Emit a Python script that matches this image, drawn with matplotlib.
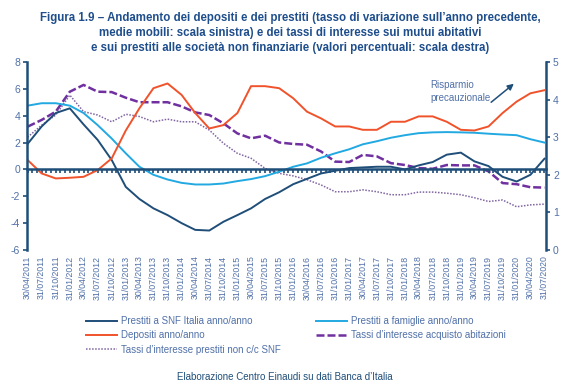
import matplotlib
matplotlib.use('Agg')
import matplotlib.pyplot as plt
import matplotlib.dates as mdates
import pandas as pd

plt.rcParams['font.family'] = ['Liberation Sans', 'DejaVu Sans']
plt.rcParams['axes.unicode_minus'] = False

# quarterly readings, 30/04/2011 .. 31/07/2020
dates = pd.date_range('2011-04-30', periods=38, freq='3ME')
tick_labels = [d.strftime('%d/%m/%Y') for d in dates]

# left scale (%)
prestiti_snf = [1.9, 3.2, 4.2, 4.55, 3.35, 2.2, 0.7, -1.3, -2.2, -2.9,
                -3.4, -4.0, -4.5, -4.55, -3.9, -3.4, -2.9, -2.2, -1.7, -1.1,
                -0.7, -0.3, -0.1, 0.1, 0.15, 0.2, 0.2, 0.0, 0.3, 0.55,
                1.1, 1.25, 0.6, 0.25, -0.55, -0.9, -0.4, 0.8]
prestiti_famiglie = [4.75, 4.93, 4.93, 4.75, 4.2, 3.3, 2.3, 1.2, 0.2, -0.4,
                     -0.75, -1.0, -1.12, -1.12, -1.05, -0.87, -0.72, -0.5, -0.17, 0.2,
                     0.45, 0.87, 1.2, 1.5, 1.87, 2.1, 2.36, 2.55, 2.7, 2.76,
                     2.78, 2.76, 2.73, 2.66, 2.6, 2.55, 2.25, 2.0]
depositi = [0.7, -0.3, -0.67, -0.62, -0.55, -0.05, 0.82, 2.9, 4.55, 6.05,
            6.4, 5.55, 4.2, 3.05, 3.3, 4.2, 6.2, 6.2, 6.05, 5.3,
            4.3, 3.8, 3.2, 3.2, 2.95, 2.95, 3.55, 3.55, 3.95, 3.95,
            3.55, 2.95, 2.9, 3.2, 4.2, 5.05, 5.67, 5.9]
# right scale (%)
tassi_abitazioni = [3.28, 3.46, 3.68, 4.21, 4.39, 4.21, 4.2, 4.05, 3.93, 3.93,
                    3.93, 3.82, 3.66, 3.59, 3.37, 3.1, 2.97, 3.04, 2.86, 2.82,
                    2.8, 2.62, 2.35, 2.34, 2.53, 2.49, 2.31, 2.26, 2.18, 2.16,
                    2.26, 2.25, 2.25, 2.09, 1.78, 1.75, 1.67, 1.66]
tassi_snf = [3.0, 3.32, 3.59, 4.12, 3.68, 3.59, 3.41, 3.61, 3.55, 3.41,
             3.48, 3.41, 3.41, 3.19, 2.84, 2.57, 2.44, 2.17, 2.04, 1.97,
             1.87, 1.73, 1.55, 1.55, 1.6, 1.55, 1.47, 1.47, 1.54, 1.54,
             1.51, 1.47, 1.39, 1.29, 1.33, 1.15, 1.2, 1.22]

navy = '#1F4E79'
txt = '#5070A8'

fig = plt.figure(figsize=(5.8, 3.92), dpi=100)
ax = fig.add_axes([27/580, 1-250/392, (546-27)/580, 188/392])
ax2 = ax.twinx()

l1, = ax.plot(dates, prestiti_snf, color=navy, lw=1.4, label='Prestiti a SNF Italia anno/anno')
l2, = ax.plot(dates, prestiti_famiglie, color='#22A9E1', lw=1.4, label='Prestiti a famiglie anno/anno')
l3, = ax.plot(dates, depositi, color='#F0532B', lw=1.4, label='Depositi anno/anno')
l4, = ax2.plot(dates, tassi_abitazioni, color='#7030A0', lw=1.8, ls=(0, (3.2, 1.2)),
               label='Tassi d’interesse acquisto abitazioni')
l5, = ax2.plot(dates, tassi_snf, color='#8064A2', lw=1.1, ls=(0, (1, 1)),
               label='Tassi d’interesse prestiti non c/c SNF')

ax.set_ylim(-6, 8)
ax.set_yticks(range(-6, 9, 2))
ax2.set_ylim(0, 5)
ax2.set_yticks(range(0, 6))
ax.set_xlim(dates[0] - pd.Timedelta(days=4), dates[-1] + pd.Timedelta(days=10))

# horizontal axis drawn at zero with monthly tick marks
ax.spines['bottom'].set_position(('data', 0))
ax.spines['bottom'].set_color(navy)
ax.spines['bottom'].set_linewidth(1.8)
ax.xaxis.set_major_locator(mdates.MonthLocator(bymonthday=-1))
ax.tick_params(axis='x', which='major', direction='out', length=3, width=1.2,
               color=navy, labelbottom=False)
sec = ax.secondary_xaxis('bottom')
sec.set_xticks(dates)
sec.set_xticklabels(tick_labels, rotation=90, fontsize=6.3, color=txt)
sec.tick_params(length=0, pad=4)
sec.spines['bottom'].set_visible(False)

for a in (ax, ax2):
    a.spines['top'].set_visible(False)
ax.spines['right'].set_visible(False)
ax2.spines['bottom'].set_visible(False)
ax2.spines['left'].set_visible(False)
ax.spines['left'].set_color(navy)
ax.spines['left'].set_linewidth(1.8)
ax2.spines['right'].set_color(navy)
ax2.spines['right'].set_linewidth(1.8)
ax.tick_params(axis='y', length=3, width=1.2, color=navy, labelcolor=txt, labelsize=7.5, pad=2)
ax2.tick_params(axis='y', length=3, width=1.2, color=navy, labelcolor=txt, labelsize=7.5, pad=2)
ax.set_zorder(ax2.get_zorder() + 1)
ax.patch.set_visible(False)

fig.text(0.5, 1-12/392, 'Figura 1.9 – Andamento dei depositi e dei prestiti (tasso di variazione sull’anno precedente,\n'
         'medie mobili: scala sinistra) e dei tassi di interesse sui mutui abitativi\n'
         'e sui prestiti alle società non finanziarie (valori percentuali: scala destra)',
         ha='center', va='top', fontsize=8.3, fontweight='bold', color='#1F4E8C', linespacing=1.35)

fig.text(430/580, 1-80/392, 'Risparmio\nprecauzionale', fontsize=7, color=txt, va='top', linespacing=1.4)
fig.add_artist(matplotlib.patches.FancyArrowPatch((489/580, 1-104/392), (516/580, 1-82/392),
               transform=fig.transFigure, arrowstyle='-|>', mutation_scale=9, color=navy, lw=1.1))

kw = dict(frameon=False, fontsize=7, handlelength=3.2, handletextpad=0.35,
          labelspacing=0.45, borderpad=0, borderaxespad=0, labelcolor=txt)
fig.legend(handles=[l1, l3, l5], loc='upper left', bbox_to_anchor=(86/580, 1-316/392), **kw)
fig.legend(handles=[l2, l4], loc='upper left', bbox_to_anchor=(316/580, 1-316/392), **kw)

fig.text(285/580, 1-377/392, 'Elaborazione Centro Einaudi su dati Banca d’Italia',
         ha='center', va='center', fontsize=7, color=navy)

fig.savefig('out.png', dpi=100)
